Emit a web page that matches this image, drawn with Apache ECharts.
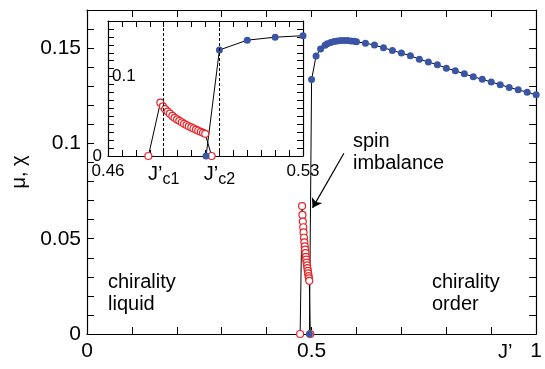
<!DOCTYPE html>
<html><head><meta charset="utf-8">
<script src="https://cdn.jsdelivr.net/npm/echarts@6/dist/echarts.min.js"></script>
<style>html,body{margin:0;padding:0;background:#fff}#c{width:545px;height:369px}</style>
</head><body><div id="c"></div>
<script>
// chirality-liquid branch (open red circles)
const redX = [0.4745, 0.4788, 0.4797, 0.4805, 0.4814, 0.4822, 0.4831, 0.4839, 0.4848, 0.4856, 0.4865, 0.4873, 0.4882, 0.4890, 0.4899, 0.4907, 0.4916, 0.4924, 0.4933, 0.4941, 0.4949, 0.4972];
const redY = [0, 0.0671, 0.0625, 0.0590, 0.0560, 0.0533, 0.0505, 0.0481, 0.0460, 0.0443, 0.0424, 0.0405, 0.0390, 0.0374, 0.0360, 0.0346, 0.0331, 0.0318, 0.0304, 0.0292, 0.0279, 0];
// chirality-order branch (filled blue dots)
const blueX = [0.4952, 0.50, 0.51, 0.52, 0.53, 0.535, 0.5425, 0.55, 0.5575, 0.565, 0.5725, 0.58, 0.5875, 0.595, 0.60, 0.62, 0.64, 0.66, 0.68, 0.70, 0.72, 0.74, 0.76, 0.78, 0.80, 0.82, 0.84, 0.86, 0.88, 0.90, 0.92, 0.94, 0.96, 0.98, 1.00];
const blueY = [0, 0.1335, 0.1459, 0.1496, 0.1515, 0.1523, 0.1530, 0.1535, 0.1538, 0.1540, 0.1540, 0.1540, 0.1538, 0.1536, 0.1533, 0.1526, 0.1516, 0.1502, 0.1488, 0.1474, 0.1460, 0.1442, 0.1427, 0.1413, 0.1395, 0.1381, 0.1365, 0.1350, 0.1336, 0.1322, 0.1308, 0.1294, 0.1281, 0.1269, 0.1255];
// critical points
const critX = [0.4785, 0.4957];
const critLabels = ['c1', 'c2'];
// tick labels
const mainXTickVals = [0, 0.5, 1];
const mainXTickLabels = ['0', '0.5', '1'];
const mainYTickVals = [0, 0.05, 0.1, 0.15];
const mainYTickLabels = ['0', '0.05', '0.1', '0.15'];
const insetXTickVals = [0.46, 0.53];
const insetXTickLabels = ['0.46', '0.53'];
const insetYOutVals = [0];
const insetYOutLabels = ['0'];
const insetYInVals = [0.1];
const insetYInLabels = ['0.1'];
// annotation arrow (data coords): from text to curve
const arrowFrom = [0.572, 0.0948];
const arrowTo = [0.5022, 0.0662];

const FONT = '"Liberation Sans", Arial, Helvetica, sans-serif';
const zip = (a, b) => a.map((v, i) => [v, b[i]]);
const fmt = (vals, labels) => v => {
  const i = vals.findIndex(t => Math.abs(t - v) < 1e-7);
  return i < 0 ? '' : labels[i];
};
const RED = '#e8262a', BLUE = '#3a55a6';

function xAx(grid, pos, min, max, iv, vals, labels, fs, tl) {
  return {
    type: 'value', gridIndex: grid, position: pos, min: min, max: max, interval: iv,
    axisLine: { show: true, onZero: false, lineStyle: { color: '#000', width: 1.2 } },
    axisTick: { show: true, inside: true, length: tl, lineStyle: { color: '#000', width: 1 } },
    axisLabel: vals ? { show: true, formatter: fmt(vals, labels), color: '#000', fontSize: fs, fontFamily: FONT, margin: 7, showMinLabel: true, showMaxLabel: true } : { show: false },
    splitLine: { show: false }
  };
}
function yAx(grid, pos, min, max, iv, vals, labels, fs, tl, inside, noLine) {
  return {
    type: 'value', gridIndex: grid, position: pos, min: min, max: max, interval: iv,
    axisLine: { show: !noLine, onZero: false, lineStyle: { color: '#000', width: 1.2 } },
    axisTick: { show: !noLine, inside: true, length: tl, lineStyle: { color: '#000', width: 1 } },
    axisLabel: vals ? { show: true, inside: !!inside, formatter: fmt(vals, labels), color: '#000', fontSize: fs, fontFamily: FONT, margin: inside ? 4 : 6 } : { show: false },
    splitLine: { show: false }
  };
}

const yMain = yAx(0, 'left', 0, 0.17, 0.01, mainYTickVals, mainYTickLabels, 21, 7);
yMain.name = 'μ, χ';
yMain.nameLocation = 'middle';
yMain.nameRotate = 90;
yMain.nameGap = 50;
yMain.nameTextStyle = { color: '#000', fontSize: 20, fontFamily: FONT };

const option = {
  animation: false,
  backgroundColor: '#fff',
  grid: [
    { left: 87, top: 10, width: 454, height: 324 },
    { left: 108, top: 21, width: 195, height: 135 }
  ],
  xAxis: [
    xAx(0, 'bottom', 0, 1, 0.1, mainXTickVals, mainXTickLabels, 21, 7),
    xAx(0, 'top', 0, 1, 0.1, null, null, 21, 7),
    xAx(1, 'bottom', 0.46, 0.53, 0.005, insetXTickVals, insetXTickLabels, 17, 6),
    xAx(1, 'top', 0.46, 0.53, 0.005, null, null, 17, 6)
  ],
  yAxis: [
    yMain,
    yAx(0, 'right', 0, 0.17, 0.01, null, null, 21, 7),
    yAx(1, 'left', 0, 0.17, 0.01, insetYOutVals, insetYOutLabels, 17, 6),
    yAx(1, 'left', 0, 0.17, 0.01, insetYInVals, insetYInLabels, 17, 6, true, true),
    yAx(1, 'right', 0, 0.17, 0.01, null, null, 17, 6)
  ],
  series: [
    {
      type: 'line', xAxisIndex: 0, yAxisIndex: 0, data: zip(redX, redY),
      symbol: 'circle', symbolSize: 7,
      itemStyle: { color: '#fff', borderColor: RED, borderWidth: 1.2 },
      lineStyle: { color: '#000', width: 1 }
    },
    {
      type: 'line', xAxisIndex: 0, yAxisIndex: 0, data: zip(blueX, blueY),
      symbol: 'circle', symbolSize: 7,
      itemStyle: { color: BLUE },
      lineStyle: { color: '#000', width: 1 },
      markLine: {
        silent: true, symbolSize: 9,
        lineStyle: { color: '#000', width: 1.2, type: 'solid' },
        label: { show: false },
        data: [[{ coord: arrowFrom, symbol: 'none' }, { coord: arrowTo, symbol: 'arrow' }]]
      }
    },
    {
      type: 'line', xAxisIndex: 2, yAxisIndex: 2, data: zip(redX, redY),
      symbol: 'circle', symbolSize: 7,
      itemStyle: { color: '#fff', borderColor: RED, borderWidth: 1.2 },
      lineStyle: { color: '#000', width: 1 },
      markLine: {
        silent: true, symbol: 'none',
        lineStyle: { color: '#000', width: 1, type: [3, 2] },
        label: {
          show: true, position: 'start', distance: 4,
          formatter: p => '{a|J’}{b|' + p.name + '}',
          rich: {
            a: { fontSize: 20, fontFamily: FONT, color: '#000' },
            b: { fontSize: 16, fontFamily: FONT, color: '#000', padding: [12, 0, 0, 0] }
          }
        },
        data: critX.map((x, i) => ({ xAxis: x, name: critLabels[i] }))
      }
    },
    {
      type: 'line', xAxisIndex: 2, yAxisIndex: 2, data: zip(blueX, blueY),
      symbol: 'circle', symbolSize: 7,
      itemStyle: { color: BLUE },
      lineStyle: { color: '#000', width: 1 }
    }
  ],
  graphic: [
    { type: 'text', left: 108, top: 271, style: { text: 'chirality\nliquid', font: '20px ' + FONT, fill: '#000', lineHeight: 22 } },
    { type: 'text', left: 432, top: 271, style: { text: 'chirality\norder', font: '20px ' + FONT, fill: '#000', lineHeight: 22 } },
    { type: 'text', left: 353, top: 130, style: { text: 'spin\nimbalance', font: '20px ' + FONT, fill: '#000', lineHeight: 22 } },
    { type: 'text', left: 498, top: 342, style: { text: 'J’', font: '20px ' + FONT, fill: '#000' } }
  ]
};
const chart = echarts.init(document.getElementById('c'), null, { renderer: 'canvas' });
chart.setOption(option);
</script>
</body></html>
